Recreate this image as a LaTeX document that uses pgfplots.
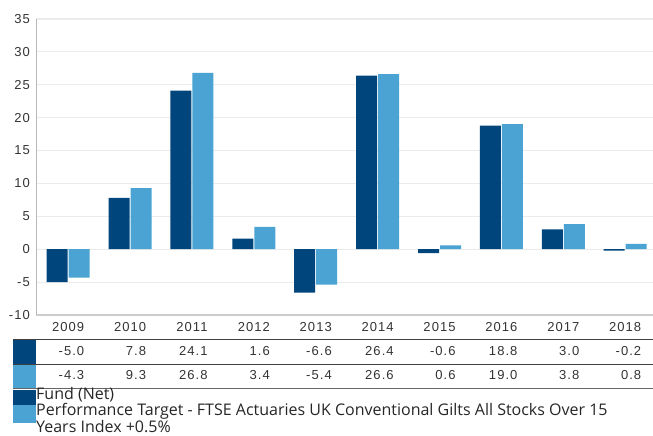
\documentclass[border=0pt]{standalone}
\usepackage{pgfplots}
\usepackage{pgfplotstable}
\pgfplotsset{compat=1.18}
\usepackage{fontspec}
\setmainfont{Liberation Sans}
\newfontfamily\tabfont[LetterSpace=8]{Liberation Sans}
\newfontfamily\legfont{Open Sans}
\definecolor{fund}{HTML}{00457C}
\definecolor{target}{HTML}{4AA3D3}
\definecolor{txt}{HTML}{333333}
\definecolor{gridc}{HTML}{EBEBEB}
\definecolor{axc}{HTML}{B8B8B8}
\definecolor{axb}{HTML}{CCCCCC}

\pgfplotstableread{
x year fund target
0 2009 -5.0 -4.3
1 2010 7.8 9.3
2 2011 24.1 26.8
3 2012 1.6 3.4
4 2013 -6.6 -5.4
5 2014 26.4 26.6
6 2015 -0.6 0.6
7 2016 18.8 19.0
8 2017 3.0 3.8
9 2018 -0.2 0.8
}\data

\begin{document}
\begin{tikzpicture}[x=1bp,y=1bp]
\useasboundingbox (0,0) rectangle (653,-436);
\begin{axis}[
  at={(36bp,-19bp)}, anchor=north west,
  scale only axis, width=617bp, height=296bp,
  xmin=-0.52, xmax=9.45, ymin=-10, ymax=35,
  ybar=1bp, bar width=21bp,
  ytick={-10,-5,0,5,10,15,20,25,30,35},
  yticklabels={-10,-5,0,5,10,15,20,25,30,35},
  xtick={0,1,2,3,4,5,6,7,8,9},
  xticklabels={
    {2009\\-5.0\\-4.3},
    {2010\\7.8\\9.3},
    {2011\\24.1\\26.8},
    {2012\\1.6\\3.4},
    {2013\\-6.6\\-5.4},
    {2014\\26.4\\26.6},
    {2015\\-0.6\\0.6},
    {2016\\18.8\\19.0},
    {2017\\3.0\\3.8},
    {2018\\-0.2\\0.8}},
  major tick length=0pt,
  ymajorgrids, grid style={gridc, line width=1.2bp},
  axis x line=bottom, axis y line=left,
  axis line style={-},
  x axis line style={draw=axb, line width=2bp},
  y axis line style={draw=axc, line width=1bp},
  yticklabel style={font=\tabfont\fontsize{13bp}{15bp}\selectfont, text=txt, anchor=east, inner sep=0pt, xshift=-6bp},
  xticklabel style={font=\tabfont\fontsize{13bp}{24.4bp}\selectfont, text=txt, anchor=base, inner sep=0pt, yshift=-64.8bp, align=right},
  clip=false,
]
\addplot[fill=fund, draw=none] table[x=x, y=fund] {\data};
\addplot[fill=target, draw=none] table[x=x, y=target] {\data};
\end{axis}
% table row markers
\fill[fund] (13,-339.5) rectangle (36,-363.5);
\fill[target] (13,-364.5) rectangle (36,-388);
\draw[line width=1.5bp, black!75] (13,-339.5) -- (653,-339.5);
\draw[line width=1bp, black!75] (13,-364) -- (653,-364);
\draw[line width=1.5bp, black!60] (13,-388.3) -- (653,-388.3);
% legend
\fill[fund] (13,-390) rectangle (36,-405);
\fill[target] (13,-405) rectangle (36,-422.7);
\node[anchor=base west, inner sep=0pt, align=left, text=black!85,
      font=\legfont\fontsize{16bp}{13.5bp}\selectfont] at (36,-432)
  {Fund (Net)\\Performance Target - FTSE Actuaries UK Conventional Gilts All Stocks Over 15\\Years Index +0.5\%};
\end{tikzpicture}
\end{document}
